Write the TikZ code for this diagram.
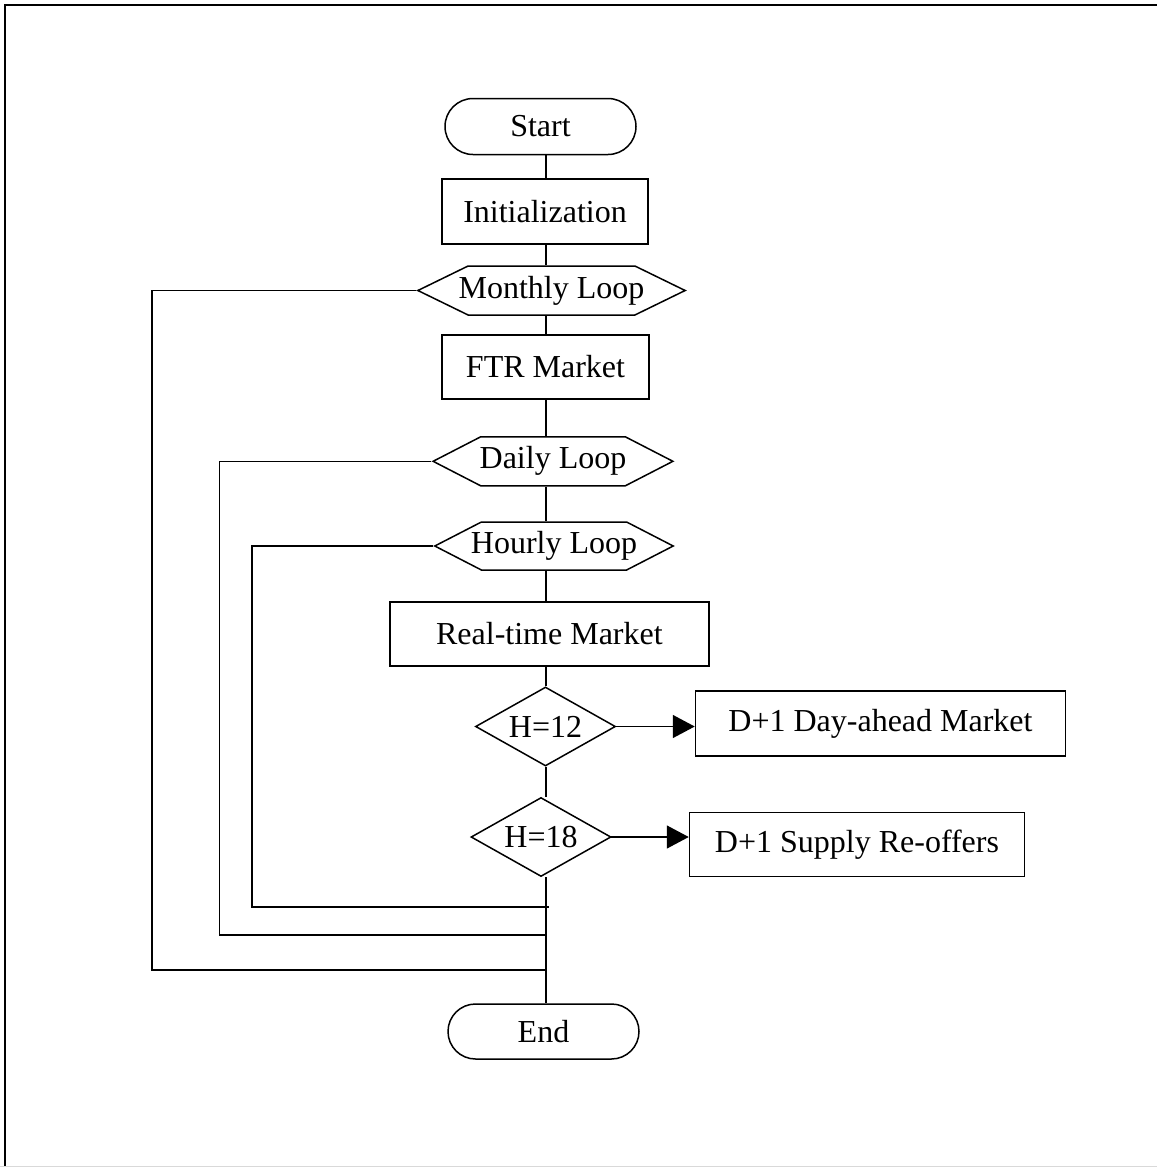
\documentclass[tikz,border=0pt]{standalone}
\usepackage{fontspec}
\setmainfont{Liberation Serif}
\usepackage{tikz}
\usetikzlibrary{shapes.geometric,shapes.misc,shapes.symbols,arrows.meta}

\begin{document}
\begin{tikzpicture}[x=1pt, y=-1pt, line width=1.5pt,
	every node/.style={draw, font=\fontsize{32pt}{38pt}\selectfont, inner sep=0pt},
	terminal/.style={rounded rectangle, minimum width=191pt, minimum height=56pt},
	process/.style={rectangle, minimum height=64pt},
	loopbox/.style={signal, signal to=east and west, signal pointer angle=54.5, minimum height=49pt},
	test/.style={diamond, aspect=1.77, minimum width=140pt, minimum height=79pt},
	flow/.style={-{Triangle[length=22pt,width=23pt]}}]

\useasboundingbox (0,0) rectangle (1157,1167);
% frame
\draw (5,1167) -- (5,5) -- (1157,5);
\draw[line width=1pt, black!15] (0,1166) -- (1157,1166);

\coordinate (trunk) at (546,0);

\node [terminal] (start) at (540.5,126.5) {Start};
\node [process, minimum width=206pt, minimum height=65pt] (init) at (545,211.5) {Initialization};
\node [loopbox, signal pointer angle=52, inner xsep=-9.5pt] (month) at (551.5,290.5) {Monthly Loop};
\node [process, minimum width=207pt] (ftr) at (545.5,367) {FTR Market};
\node [loopbox, inner xsep=-1pt] (day) at (553,461.3) {Daily Loop};
\node [loopbox, inner xsep=-10.5pt, minimum height=48pt] (hour) at (554,546) {Hourly Loop};
\node [process, minimum width=319pt] (rtm) at (549.4,633.8) {Real-time Market};
\node [test] (h12) at (545.5,726.5) {H=12};
\node [process, minimum width=370pt, minimum height=65pt] (dam) at (880.5,723.5) {D+1 Day-ahead Market};
\node [test] (h18) at (541,837) {H=18};
\node [process, minimum width=335pt] (sro) at (857,844.5) {D+1 Supply Re-offers};
\node [terminal, minimum height=55pt] (end) at (543.5,1031.5) {End};

% main column
\foreach \a/\b in {start/init, init/month, month/ftr, ftr/day, day/hour, hour/rtm, rtm/h12, h12/h18, h18/end}
	\draw (\a.south -| trunk) -- (\b.north -| trunk);

% market branches
\draw [flow] (h12) ++(70pt,0) -- (h12 -| dam.west);
\draw [flow] (h18) ++(70pt,0) -- (h18 -| sro.west);

% loop returns
\coordinate (mret) at (152,970);
\coordinate (dret) at (219.5,935);
\coordinate (hret) at (252,907);
\draw (month.west) -| (mret) -- (mret -| trunk);
\draw (day.west) -| (dret) -- (dret -| trunk);
\draw (hour.west) -| (hret) -- ([xshift=3pt]hret -| trunk);

\end{tikzpicture}
\end{document}
